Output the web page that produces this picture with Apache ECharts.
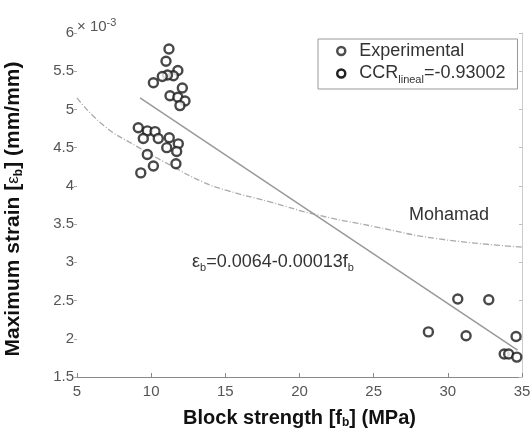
<!DOCTYPE html>
<html>
<head>
<meta charset="utf-8">
<script src="https://cdn.jsdelivr.net/npm/echarts@6/dist/echarts.min.js"></script>
<style>
html,body{margin:0;padding:0;background:#fff;}
#c{width:532px;height:431px;}
</style>
</head>
<body>
<div id="c"></div>
<script>
// Block strength f_b (MPa) of experimental points
var expX = [11.2, 11.0, 11.8, 11.5, 11.1, 10.75, 10.15,
            11.27, 12.1, 11.8, 12.28, 11.94,
            9.13, 9.74, 10.26, 9.47, 10.48, 11.22, 11.83, 11.05, 11.72, 9.74, 10.15, 11.67, 9.3,
            30.67, 32.76, 28.69, 31.23, 34.6, 33.8, 34.1, 34.65];
// Maximum strain (x 10^-3)
var expY = [5.79, 5.63, 5.51, 5.44, 5.45, 5.43, 5.35,
            5.18, 5.28, 5.16, 5.11, 5.05,
            4.76, 4.72, 4.71, 4.62, 4.62, 4.63, 4.55, 4.50, 4.45, 4.41, 4.26, 4.29, 4.17,
            2.52, 2.51, 2.09, 2.04, 2.03, 1.80, 1.80, 1.76];
// Linear fit line endpoints
var linX = [9.25, 34.7];
var linY = [5.15, 1.85];
// Mohamad curve
var mohX = [5, 6.8, 9.0, 11.3, 13.5, 15.1, 18.0, 21.2, 25.0, 29.25, 35];
var mohY = [5.15, 4.79, 4.52, 4.27, 4.05, 3.94, 3.79, 3.62, 3.47, 3.31, 3.20];

var xTicks = [5, 10, 15, 20, 25, 30, 35];
var yTicks = [1.5, 2, 2.5, 3, 3.5, 4, 4.5, 5, 5.5, 6];

function zip(a, b) { return a.map(function (v, i) { return [v, b[i]]; }); }

var chart = echarts.init(document.getElementById('c'));
var FONT = 'Liberation Sans, Arial, sans-serif';

chart.setOption({
  backgroundColor: '#fff',
  animation: false,
  textStyle: { fontFamily: FONT },
  grid: { left: 77, right: 10, top: 33, bottom: 54, containLabel: false, outerBoundsMode: 'none' },
  xAxis: {
    type: 'value', min: xTicks[0], max: xTicks[xTicks.length - 1], interval: 5,
    name: '{m|Block strength [f}{s|b}{m|] (MPa)}',
    nameLocation: 'middle', nameGap: 30,
    nameTextStyle: {
      rich: {
        m: { fontFamily: FONT, fontSize: 20, fontWeight: 'bold', color: '#111', lineHeight: 22 },
        s: { fontFamily: FONT, fontSize: 12, fontWeight: 'bold', color: '#111', lineHeight: 22, padding: [10, 0, 0, 0] }
      }
    },
    axisLine: { show: true, lineStyle: { color: '#888', width: 1 } },
    axisTick: { show: true, inside: true, length: 4, lineStyle: { color: '#888' } },
    axisLabel: { color: '#555', fontSize: 15, margin: 7, fontFamily: FONT },
    splitLine: { show: false }
  },
  yAxis: [{
    type: 'value', min: yTicks[0], max: yTicks[yTicks.length - 1], interval: 0.5,
    name: '{m|Maximum strain [}{e|ε}{s|b}{m|] (mm/mm)}',
    nameLocation: 'middle', nameGap: 52, nameRotate: 90,
    nameTextStyle: {
      padding: [0, 8, 0, 0],
      rich: {
        m: { fontFamily: FONT, fontSize: 21, fontWeight: 'bold', color: '#111', lineHeight: 24 },
        e: { fontFamily: FONT, fontSize: 17, fontWeight: 'normal', color: '#111', lineHeight: 24 },
        s: { fontFamily: FONT, fontSize: 12, fontWeight: 'bold', color: '#111', lineHeight: 24, padding: [11, 0, 0, 0] }
      }
    },
    axisLine: { show: false },
    axisTick: { show: true, inside: false, length: 3, lineStyle: { color: '#aaa' } },
    axisLabel: { color: '#555', fontSize: 15, margin: 3, fontFamily: FONT },
    splitLine: { show: false }
  }, {
    type: 'value', position: 'right', min: yTicks[0], max: yTicks[yTicks.length - 1], interval: 0.5,
    axisLine: { show: true, lineStyle: { color: '#ccc' } },
    axisTick: { show: true, inside: true, length: 3, lineStyle: { color: '#bbb' } },
    axisLabel: { show: false },
    splitLine: { show: false }
  }],
  legend: {
    left: 318, top: 39,
    orient: 'vertical',
    padding: [3, 12, 4, 18],
    itemGap: 2,
    itemWidth: 8, itemHeight: 8,
    borderColor: '#999', borderWidth: 1,
    backgroundColor: '#fff',
    textStyle: {
      fontFamily: FONT, fontSize: 18, color: '#333',
      rich: {
        m: { fontFamily: FONT, fontSize: 18, color: '#333', lineHeight: 22 },
        g: { fontFamily: FONT, fontSize: 18, color: '#333', lineHeight: 22, padding: [0, 0, 0, 9] },
        s: { fontFamily: FONT, fontSize: 11, color: '#333', lineHeight: 22, padding: [12, 0, 0, 0] }
      }
    },
    formatter: function (n) {
      if (n === 'CCR') return '{g|CCR}{s|lineal}{m|=-0.93002}';
      return '{g|' + n + '}';
    },
    data: [
      { name: 'Experimental', icon: 'circle', itemStyle: { color: '#fff', borderColor: '#222', borderWidth: 2.5 } },
      { name: 'CCR', icon: 'circle', itemStyle: { color: '#fff', borderColor: '#222', borderWidth: 2.5 } }
    ]
  },
  graphic: [
    {
      type: 'text', left: 77, top: 17,
      style: {
        text: '{m|× 10}{s|-3}',
        rich: {
          m: { fontFamily: FONT, fontSize: 15, fill: '#555', lineHeight: 18 },
          s: { fontFamily: FONT, fontSize: 11, fill: '#555', lineHeight: 18, padding: [0, 0, 9, 0] }
        }
      }
    },
    {
      type: 'text', left: 409, top: 206,
      style: { text: 'Mohamad', font: '18px Liberation Sans, Arial, sans-serif', fill: '#333' }
    },
    {
      type: 'text', left: 192, top: 251,
      style: {
        text: '{m|ε}{s|b}{m|=0.0064-0.00013f}{s|b}',
        rich: {
          m: { fontFamily: FONT, fontSize: 18, fill: '#333', lineHeight: 20 },
          s: { fontFamily: FONT, fontSize: 11, fill: '#333', lineHeight: 20, padding: [11, 0, 0, 0] }
        }
      }
    }
  ],
  series: [
    {
      name: 'Mohamad', type: 'line', data: zip(mohX, mohY), smooth: true,
      showSymbol: false, symbol: 'none',
      lineStyle: { color: '#aaa', width: 1.3, type: [6, 2, 1, 2] }, z: 1
    },
    {
      name: 'CCR', type: 'line', data: zip(linX, linY),
      showSymbol: false, symbol: 'none',
      lineStyle: { color: '#999', width: 1.5 }, z: 2
    },
    {
      name: 'Experimental', type: 'scatter', data: zip(expX, expY),
      symbol: 'circle', symbolSize: 9,
      itemStyle: { color: '#fff', borderColor: '#1a1a1a', borderWidth: 2.4 }, z: 3
    }
  ]
});
</script>
</body>
</html>
